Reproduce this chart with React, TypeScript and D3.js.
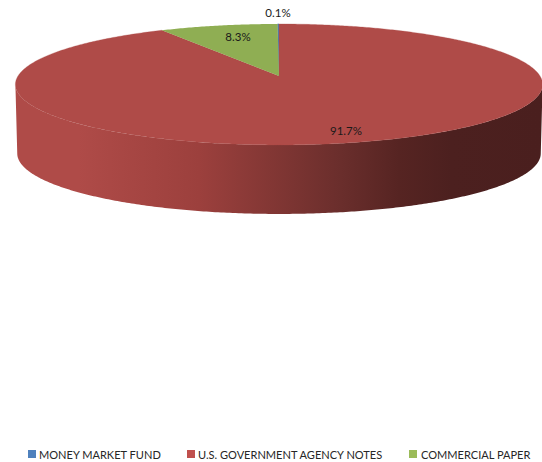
import React from "react";
import * as d3 from "d3";

const categories = ["MONEY MARKET FUND", "U.S. GOVERNMENT AGENCY NOTES", "COMMERCIAL PAPER"];
const values = [0.1, 91.7, 8.3];
const labels = ["0.1%", "91.7%", "8.3%"];
const topColors = ["#4a7ab0", "#af4b48", "#8fae53"];
const legendColors = ["#4f81bd", "#c0504d", "#9bbb59"];
const sideStops: [number, string][] = [
  [0, "#af4b48"], [0.12, "#af4b48"], [0.18, "#aa4845"], [0.35, "#9c403d"], [0.62, "#6a2e2c"], [0.73, "#562422"], [0.83, "#4c201f"], [1, "#4a1f1e"],
];
const labelPos: [number, number][] = [[278, 13], [346, 131], [238, 37]];
const legendSwatchX = [28, 187, 409];
const legendTextX = [39, 198, 421];

const W = 542, H = 462;
const cx = 279, cy = 76, Rx = 261, A = 59.3, k = 0.14, depth = 69;

// perspective projection of a point on the unit disc (angle clockwise from 12 o'clock)
function project(angle: number, r = 1, dy = 0, sx = 1): [number, number] {
  const u = r * Math.sin(angle);
  const v = -r * Math.cos(angle);
  const s = 1 / (1 - k * v);
  return [cx + Rx * sx * u * s, cy + dy + A * v * s];
}

function arcPoints(a0: number, a1: number, dy = 0, sx = 1): [number, number][] {
  const n = Math.max(2, Math.ceil(Math.abs(a1 - a0) / 0.01));
  return d3.range(n + 1).map((i) => project(a0 + ((a1 - a0) * i) / n, 1, dy, sx));
}

const line = d3.line();

export default function App() {
  const startAngle = -(values[0] / 100) * 2 * Math.PI;
  const arcs = d3
    .pie<number>()
    .sort(null)
    .startAngle(startAngle)
    .endAngle(startAngle + 2 * Math.PI)(values);

  // Near half of the rim, right extreme to left extreme
  const right = Math.PI / 2 + Math.asin(k);
  const left = (3 * Math.PI) / 2 - Math.asin(k);
  const sidePts = [...arcPoints(right, left), ...arcPoints(left, right, depth, 0.993)];

  const xGrad = d3.scaleLinear().domain([0, 1]).range([15, 541]);

  return (
    <svg width={W} height={H} style={{ position: "absolute", left: 0, top: 0 }} fontFamily="Lato, Carlito, sans-serif">
      <defs>
        <linearGradient id="side" gradientUnits="userSpaceOnUse" x1={xGrad(0)} x2={xGrad(1)} y1={0} y2={0}>
          {sideStops.map(([o, c]) => (
            <stop key={o} offset={o} stopColor={c} />
          ))}
        </linearGradient>
      </defs>
      <path d={(line(sidePts) ?? "") + "Z"} fill="url(#side)" />
      {arcs.map((a, i) => (
        <path
          key={i}
          d={(line([[cx, cy], ...arcPoints(a.startAngle, a.endAngle)]) ?? "") + "Z"}
          fill={topColors[i]}
          stroke={i === 0 ? topColors[i] : i === 1 ? topColors[i] : "none"}
          strokeWidth={i === 0 ? 0.6 : i === 1 ? 0.3 : 0}
        />
      ))}
      {labels.map((t, i) => (
        <text key={t} x={labelPos[i][0]} y={labelPos[i][1]} dy="0.35em" textAnchor="middle" fontSize={11.5} fill="#1a1a1a">
          {t}
        </text>
      ))}
      {categories.map((c, i) => (
        <g key={c}>
          <rect x={legendSwatchX[i]} y={450} width={8} height={8} fill={legendColors[i]} />
          <text x={legendTextX[i]} y={455} dy="0.35em" fontSize={11.05} fill="#262626">
            {c}
          </text>
        </g>
      ))}
    </svg>
  );
}
